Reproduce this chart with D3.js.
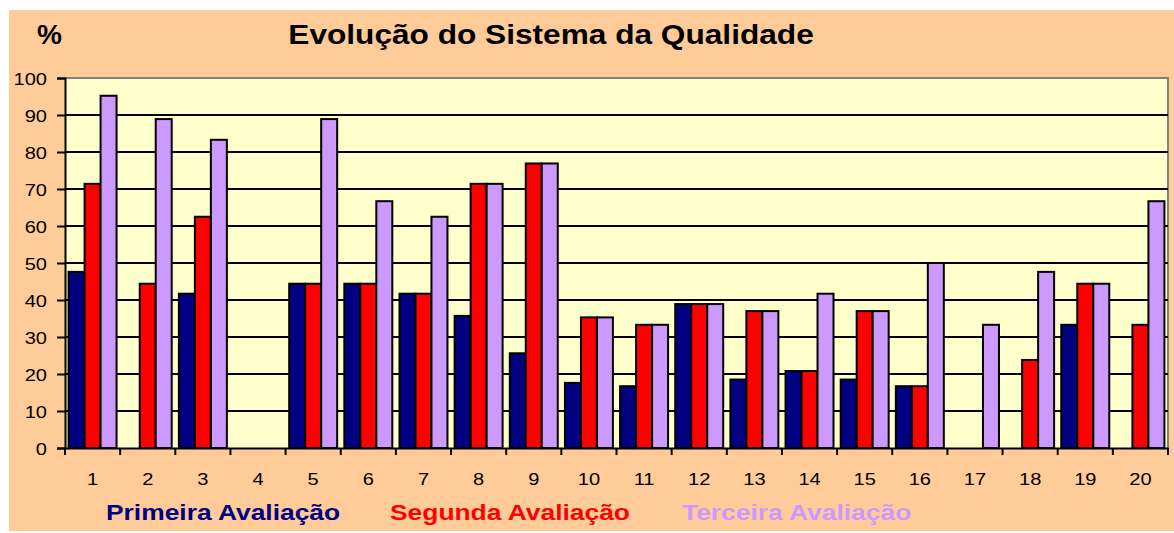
<!DOCTYPE html>
<html>
<head>
<meta charset="utf-8">
<script src="https://cdn.jsdelivr.net/npm/d3@7"></script>
<style>
  body { margin: 0; background: #fff; }
  text { font-family: Arial, "Liberation Sans", sans-serif; }
</style>
</head>
<body>
<svg width="1174" height="533"></svg>
<script>
// categories and the three evaluation rounds (%)
const categories = ["1","2","3","4","5","6","7","8","9","10","11","12","13","14","15","16","17","18","19","20"];
const primeira = [47.6, 0, 41.7, 0, 44.4, 44.4, 41.7, 35.7, 25.6, 17.6, 16.7, 38.9, 18.5, 20.8, 18.5, 16.7, 0, 0, 33.3, 0];
const segunda  = [71.4, 44.4, 62.5, 0, 44.4, 44.4, 41.7, 71.4, 76.9, 35.3, 33.3, 38.9, 37.0, 20.8, 37.0, 16.7, 0, 23.8, 44.4, 33.3];
const terceira = [95.2, 88.9, 83.3, 0, 88.9, 66.7, 62.5, 71.4, 76.9, 35.3, 33.3, 38.9, 37.0, 41.7, 37.0, 50.0, 33.3, 47.6, 44.4, 66.7];
const seriesNames = ["Primeira Avaliação", "Segunda Avaliação", "Terceira Avaliação"];
const colors = ["#000080", "#FF0000", "#CC99FF"];
const yTicks = [0, 10, 20, 30, 40, 50, 60, 70, 80, 90, 100];

const svg = d3.select("svg");

// the original picture is a bit wider than tall, so text is stretched sideways
const sx = 1.18;

// outer chart background
svg.append("rect")
    .attr("x", 9).attr("y", 10)
    .attr("width", 1165).attr("height", 521)
    .attr("fill", "#FFCC99");

const m = {left: 65, right: 1168, top: 78, bottom: 448};

const x = d3.scaleBand()
    .domain(categories)
    .range([m.left, m.right])
    .paddingInner(0.13)
    .paddingOuter(0.065);

const xSub = d3.scaleBand()
    .domain([0, 1, 2])
    .range([0, x.bandwidth()]);

const y = d3.scaleLinear()
    .domain([0, 100])
    .range([m.bottom, m.top]);

// plot area
svg.append("rect")
    .attr("x", m.left).attr("y", m.top)
    .attr("width", m.right - m.left).attr("height", m.bottom - m.top)
    .attr("fill", "#FFFFCC");

// top and right border (grey)
svg.append("path")
    .attr("d", `M${m.left},${m.top}H${m.right}V${m.bottom}`)
    .attr("fill", "none")
    .attr("stroke", "#808080")
    .attr("stroke-width", 2);

// gridlines
svg.append("g")
    .selectAll("line")
    .data(yTicks.filter(d => d > 0 && d < 100))
    .join("line")
    .attr("x1", m.left).attr("x2", m.right)
    .attr("y1", d => y(d)).attr("y2", d => y(d))
    .attr("stroke", "#000")
    .attr("stroke-width", 2);

// bars
const rows = categories.map((c, i) => ({cat: c, vals: [primeira[i], segunda[i], terceira[i]]}));

svg.append("g")
    .selectAll("g")
    .data(rows)
    .join("g")
    .attr("transform", d => `translate(${x(d.cat)},0)`)
    .selectAll("rect")
    .data(d => d.vals.map((v, k) => ({v, k})).filter(e => e.v > 0))
    .join("rect")
    .attr("x", d => xSub(d.k))
    .attr("y", d => y(d.v))
    .attr("width", xSub.bandwidth())
    .attr("height", d => y(0) - y(d.v))
    .attr("fill", d => colors[d.k])
    .attr("stroke", "#000")
    .attr("stroke-width", 2);

// y axis
const yAxis = svg.append("g")
    .attr("transform", `translate(${m.left},0)`)
    .call(d3.axisLeft(y).tickValues(yTicks).tickSize(8));
yAxis.select(".domain").attr("stroke", "#000").attr("stroke-width", 2);
yAxis.selectAll(".tick line").attr("stroke", "#000").attr("stroke-width", 2);
yAxis.selectAll("text")
    .attr("font-size", 17).attr("fill", "#000")
    .attr("x", -18 / sx).attr("dy", "0.4em")
    .attr("transform", `scale(${sx},1)`);

// x axis: ticks on band boundaries
const xAxis = svg.append("g")
    .attr("transform", `translate(0,${m.bottom})`)
    .call(d3.axisBottom(x).tickSize(0));
xAxis.select(".domain").attr("stroke", "#000").attr("stroke-width", 2);
xAxis.selectAll("text")
    .attr("font-size", 17).attr("fill", "#000")
    .attr("y", 37).attr("dy", 0)
    .attr("transform", `scale(${sx},1)`);
const step = x.step();
const bounds = d3.range(categories.length + 1).map(i => m.left + i * step);
xAxis.selectAll(".bound")
    .data(bounds)
    .join("line")
    .attr("class", "bound")
    .attr("x1", d => d).attr("x2", d => d)
    .attr("y1", 0).attr("y2", 7)
    .attr("stroke", "#000")
    .attr("stroke-width", 2);

// title and unit
svg.append("text")
    .attr("transform", "translate(551,44) scale(1.13,1)")
    .attr("text-anchor", "middle")
    .attr("font-size", 28).attr("font-weight", "bold")
    .text("Evolução do Sistema da Qualidade");
svg.append("text")
    .attr("transform", "translate(37,44) scale(1.0,1)")
    .attr("font-size", 28).attr("font-weight", "bold")
    .text("%");

// legend
const legendX = [106, 390, 682];
svg.append("g")
    .selectAll("text")
    .data(seriesNames)
    .join("text")
    .attr("transform", (d, i) => `translate(${legendX[i]},520) scale(1.2,1)`)
    .attr("font-size", 22).attr("font-weight", "bold")
    .attr("fill", (d, i) => colors[i])
    .text(d => d);
</script>
</body>
</html>
